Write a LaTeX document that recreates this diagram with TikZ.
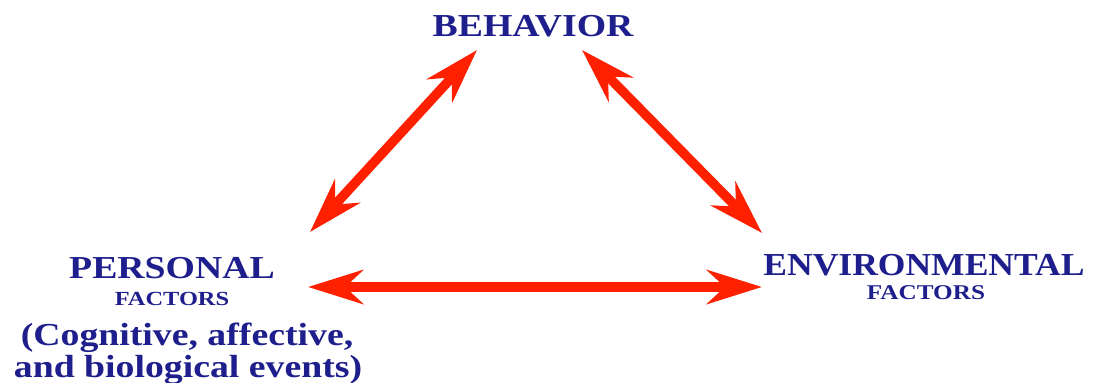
\documentclass[tikz,border=0pt]{standalone}
\usepackage{fontspec}
\setmainfont{Liberation Serif}
\usetikzlibrary{arrows.meta}
\definecolor{txtblue}{RGB}{30,30,140}
\definecolor{arrred}{RGB}{255,32,0}
\tikzset{
  lbl/.style={text=txtblue, font=\bfseries, inner sep=0pt, anchor=base},
  link/.style={draw=arrred, line width=9.5pt,
    {Stealth[length=55pt,width=34pt,inset=18pt]}-{Stealth[length=55pt,width=34pt,inset=18pt]}}
}
\newcommand{\wide}[1]{\scalebox{1.18}[1]{#1}}
\begin{document}
\begin{tikzpicture}[x=1pt,y=-1pt]
\useasboundingbox (0,0) rectangle (1096,383);
\node[lbl, font=\bfseries\fontsize{32}{32}\selectfont] (beh) at (533,36) {\wide{BEHAVIOR}};
\node[lbl, font=\bfseries\fontsize{32}{32}\selectfont] (pers) at (172,278) {\wide{PERSONAL}};
\node[lbl, font=\bfseries\fontsize{20}{20}\selectfont] (pfac) at (172,305) {\scalebox{1.22}[1]{FACTORS}};
\node[lbl, font=\bfseries\fontsize{32}{32}\selectfont] (cog) at (187,345) {\wide{(Cognitive, affective,}};
\node[lbl, font=\bfseries\fontsize{32}{32}\selectfont] (bio) at (188,377) {\wide{and biological events)}};
\node[lbl, font=\bfseries\fontsize{32}{32}\selectfont] (env) at (924,275) {\scalebox{1.11}[1]{ENVIRONMENTAL}};
\node[lbl, font=\bfseries\fontsize{21}{21}\selectfont] (efac) at (926,299) {\scalebox{1.2}[1]{FACTORS}};
\coordinate (bl) at (477,50);
\coordinate (pl) at (310,232);
\coordinate (br) at (582,50);
\coordinate (er) at (762,233);
\coordinate (ph) at (308,287);
\coordinate (eh) at (762,287);
\draw[link] (pl) -- (bl);
\draw[link] (br) -- (er);
\draw[link] (ph) -- (eh);
\end{tikzpicture}
\end{document}
